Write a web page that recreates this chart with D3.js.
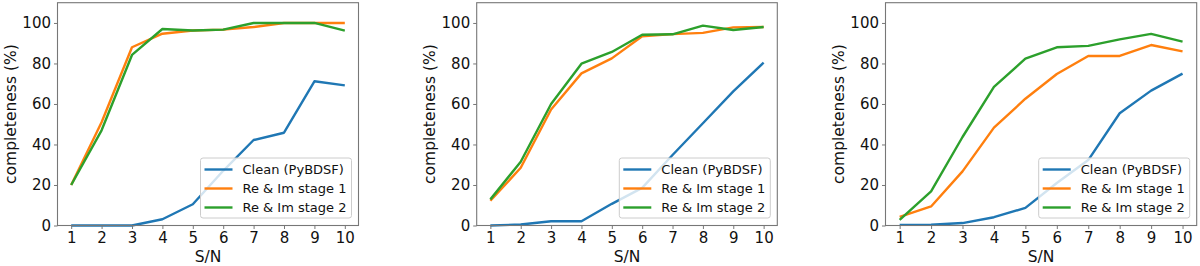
<!DOCTYPE html>
<html>
<head>
<meta charset="utf-8">
<script src="https://cdn.jsdelivr.net/npm/d3@7"></script>
<style>
  body { margin: 0; background: #fff; }
  svg { display: block; font-family: "DejaVu Sans", sans-serif; }
</style>
</head>
<body>
<svg id="fig" width="1200" height="266"></svg>
<script>
// data
var snr = [1, 2, 3, 4, 5, 6, 7, 8, 9, 10];
var seriesNames = ["Clean (PyBDSF)", "Re & Im stage 1", "Re & Im stage 2"];
var yTicks = [0, 20, 40, 60, 80, 100];

var cleanA  = [0, 0, 0, 3.1, 10.5, 27, 42.2, 45.8, 71.2, 69.2];
var stage1A = [20, 51, 88, 94.7, 96.3, 96.7, 98, 100, 100, 100];
var stage2A = [20, 47, 84.2, 97, 96.3, 96.7, 100, 100, 100, 96.2];

var cleanB  = [0, 0.5, 2.1, 2.1, 10.7, 18.6, 34.8, 50.5, 66.2, 80.4];
var stage1B = [12.2, 28.5, 57.3, 75.1, 82.5, 93.4, 94.5, 95.1, 97.8, 98];
var stage2B = [12.9, 31.5, 60, 79.9, 85.7, 94.2, 94.4, 98.7, 96.5, 98];

var cleanC  = [0.3, 0.4, 1.2, 4.1, 8.7, 21, 32.3, 55.4, 66.6, 75];
var stage1C = [4.3, 9.4, 26.7, 48.3, 62.6, 74.8, 83.7, 83.7, 89.1, 86];
var stage2C = [2.8, 16.8, 43.7, 68.4, 82.4, 88, 88.7, 91.9, 94.6, 90.8];

var colors = ["#1f77b4", "#ff7f0e", "#2ca02c"];

var panels = [
  {left: 57.5, right: 358.5, series: [cleanA, stage1A, stage2A]},
  {left: 476.7, right: 777.3, series: [cleanB, stage1B, stage2B]},
  {left: 885.5, right: 1196.7, series: [cleanC, stage1C, stage2C]}
];

var plotTop = 2.7, plotBottom = 225.5;
var svg = d3.select("#fig");

panels.forEach(function(p) {
  var x = d3.scaleLinear().domain([0.55, 10.45]).range([p.left, p.right]);
  var y = d3.scaleLinear().domain([0, 110]).range([plotBottom, plotTop]);
  var g = svg.append("g");

  var line = d3.line()
      .x(function(d, i) { return x(snr[i]); })
      .y(function(d) { return y(d); });

  p.series.forEach(function(s, k) {
    g.append("path")
        .datum(s)
        .attr("d", line)
        .attr("fill", "none")
        .attr("stroke", colors[k])
        .attr("stroke-width", 2.4)
        .attr("stroke-linejoin", "round");
  });

  // frame
  g.append("rect")
      .attr("x", p.left).attr("y", plotTop)
      .attr("width", p.right - p.left).attr("height", plotBottom - plotTop)
      .attr("fill", "none").attr("stroke", "#777").attr("stroke-width", 1.1);

  var xAxis = g.append("g")
      .attr("transform", "translate(0," + plotBottom + ")")
      .call(d3.axisBottom(x).tickValues(snr).tickFormat(d3.format("d")).tickSize(3.5).tickPadding(3));
  var yAxis = g.append("g")
      .attr("transform", "translate(" + p.left + ",0)")
      .call(d3.axisLeft(y).tickValues(yTicks).tickSize(3.5).tickPadding(3));
  [xAxis, yAxis].forEach(function(a) {
    a.select(".domain").remove();
    a.selectAll("line").attr("stroke", "#777");
    a.selectAll("text").attr("fill", "#111").style("font-size", "15px").style("font-family", "DejaVu Sans");
  });

  g.append("text")
      .attr("x", (p.left + p.right) / 2).attr("y", 262)
      .attr("text-anchor", "middle")
      .style("font-size", "15.5px").attr("fill", "#111")
      .text("S/N");
  g.append("text")
      .attr("transform", "translate(" + (p.left - 42) + "," + ((plotTop + plotBottom) / 2) + ") rotate(-90)")
      .attr("text-anchor", "middle")
      .style("font-size", "15.5px").attr("fill", "#111")
      .text("completeness (%)");

  // legend
  var lw = 151, lh = 60;
  var lx = p.right - 7 - lw, ly = plotBottom - 7.5 - lh;
  var leg = g.append("g").attr("transform", "translate(" + lx + "," + ly + ")");
  leg.append("rect")
      .attr("width", lw).attr("height", lh).attr("rx", 2.5)
      .attr("fill", "#fff").attr("fill-opacity", 0.8)
      .attr("stroke", "#ccc").attr("stroke-width", 1);
  seriesNames.forEach(function(name, k) {
    var yy = 11.5 + k * 19;
    leg.append("line")
        .attr("x1", 4).attr("x2", 32).attr("y1", yy).attr("y2", yy)
        .attr("stroke", colors[k]).attr("stroke-width", 2.4);
    leg.append("text")
        .attr("x", 42).attr("y", yy + 4.6)
        .style("font-size", "13px").attr("fill", "#111")
        .text(name);
  });
});
</script>
</body>
</html>
